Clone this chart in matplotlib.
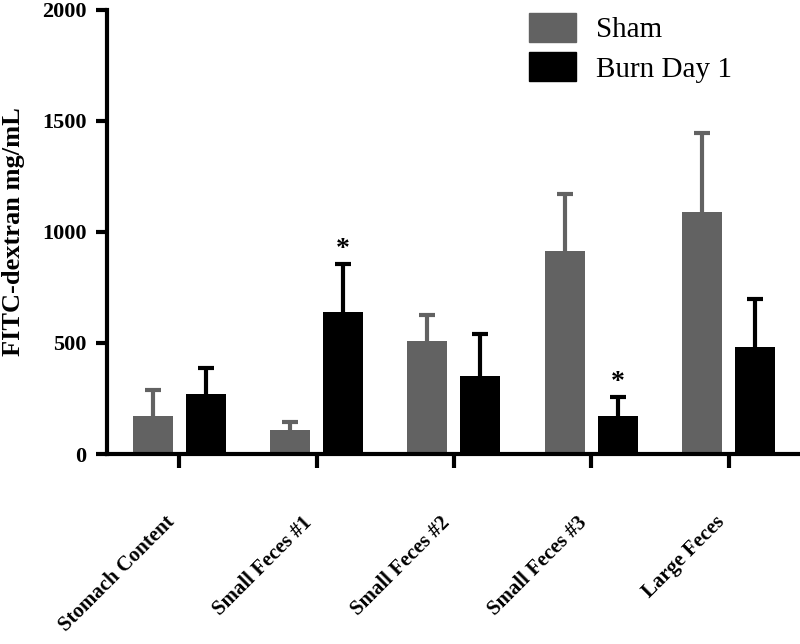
import numpy as np
import matplotlib
matplotlib.use('Agg')
import matplotlib.pyplot as plt
from matplotlib.patches import Patch

plt.rcParams['font.family'] = ['Liberation Serif', 'DejaVu Serif']

# data
categories = ['Stomach Content', 'Small Feces #1', 'Small Feces #2', 'Small Feces #3', 'Large Feces']
sham_mean = [170, 110, 508, 916, 1091]
sham_top = [288, 142, 627, 1171, 1443]
burn_mean = [270, 641, 349, 169, 482]
burn_top = [386, 854, 540, 255, 696]
signif = [False, True, False, True, False]

sham_col = '#626262'
burn_col = '#000000'

fig = plt.figure(figsize=(8, 6.44), dpi=100)
ax = fig.add_axes([0.134, 0.295, 0.866, 0.690])

x = np.arange(len(categories))
w = 0.29
off = 0.193
cap = 0.058

# upward-only error bars (mean -> mean + SEM) with a cap at the top
for xs, m, t, c in [(x - off, sham_mean, sham_top, sham_col), (x + off, burn_mean, burn_top, burn_col)]:
    ax.vlines(xs, m, t, colors=c, linewidth=3, zorder=1)
    ax.hlines(t, xs - cap, xs + cap, colors=c, linewidth=3, zorder=1)

ax.bar(x - off, sham_mean, w, color=sham_col, zorder=2)
ax.bar(x + off, burn_mean, w, color=burn_col, zorder=2)

for i in range(len(x)):
    if signif[i]:
        ax.text(x[i] + off, burn_top[i] + 12, '*', ha='center', va='bottom',
                fontsize=20, fontweight='bold')

ax.set_xlim(-0.524, 4.52)
ax.set_ylim(0, 2000)
ax.set_yticks([0, 500, 1000, 1500, 2000])
ax.set_xticks(x)
ax.set_xticklabels(categories, rotation=45, ha='right', fontsize=15, fontweight='bold')
for lab in ax.get_yticklabels():
    lab.set_fontsize(16)
    lab.set_fontweight('bold')
ax.tick_params(axis='x', length=10, width=3, pad=32)
ax.tick_params(axis='y', length=8, width=3, pad=7)

ax.spines['top'].set_visible(False)
ax.spines['right'].set_visible(False)
ax.spines['left'].set_linewidth(3)
ax.spines['bottom'].set_linewidth(3)

ax.set_ylabel('FITC-dextran mg/mL', fontsize=19, fontweight='bold', labelpad=12)

handles = [Patch(color=sham_col, label='Sham'), Patch(color=burn_col, label='Burn Day 1')]
fig.legend(handles=handles, loc='upper left', bbox_to_anchor=(0.643, 1.003),
           frameon=False, fontsize=21, handlelength=1.6, handleheight=1.15,
           handletextpad=0.7, labelspacing=0.32, borderpad=0.0)

fig.savefig('out.png', dpi=100)
